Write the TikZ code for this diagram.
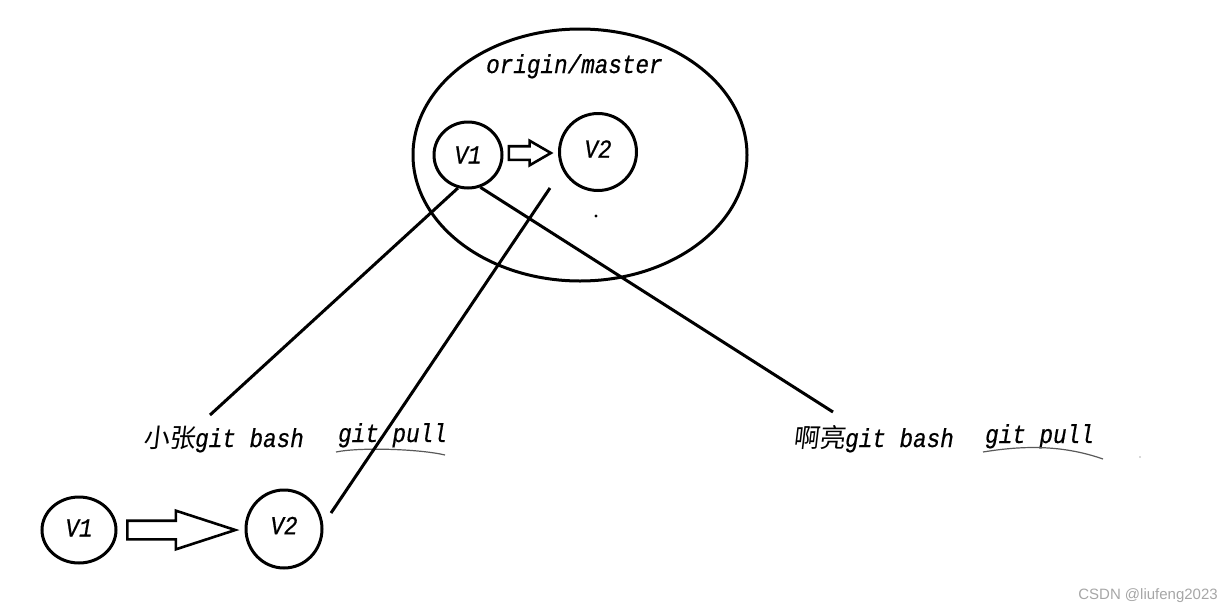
\documentclass[tikz,border=0pt]{standalone}
\usepackage{fontspec}
\setmainfont{Liberation Serif}
\newfontfamily\monoit[FakeStretch=0.87, FakeBold=0.6]{Liberation Mono}
\newfontfamily\cjk[FakeSlant=0.12]{Noto Sans CJK SC}
\usetikzlibrary{positioning, shapes.geometric, shapes.arrows}

\begin{document}
\begin{tikzpicture}[
  x=1pt, y=-1pt,
  ver/.style={ellipse, draw, line width=3pt, inner sep=0pt,
              font=\monoit\itshape\fontsize{26}{28}\selectfont},
  repo/.style={ellipse, draw, line width=3pt, inner sep=0pt},
  hollow/.style={single arrow, draw, line width=2.6pt, single arrow head indent=0pt,
                 inner xsep=0pt, shape border rotate=0},
  lbl/.style={anchor=base west, inner sep=0pt, font=\monoit\itshape\fontsize{26}{28}\selectfont},
  link/.style={line width=3pt},
  wave/.style={gray!70!black, line width=1.2pt},
]
  \useasboundingbox (0,0) rectangle (1232,611);

  % Remote repository
  \node[repo, minimum width=334pt, minimum height=252pt] (remote) at (580,155) {};
  \node[lbl] (rname) at (486,73) {origin/master};
  \node[ver, minimum width=68pt, minimum height=66pt] (rv1) at (468,155) {V1};
  \node[ver, minimum width=77pt, minimum height=77pt] (rv2) at (598,152) {\raisebox{6pt}{V2}};
  \node[hollow, minimum height=42pt, inner ysep=5.5pt, single arrow head extend=5.5pt,
        single arrow tip angle=60] (rarr) at (524,153) {};
  \fill (596,216) circle (1.6pt);

  % Local repository of the first user
  \node[ver, minimum width=74pt, minimum height=66pt] (lv1) at (79,530) {\raisebox{4pt}{V1}};
  \node[ver, minimum width=76pt, minimum height=78pt] (lv2) at (284,529) {\raisebox{7pt}{V2}};
  \node[hollow, minimum height=108pt, inner ysep=8pt, single arrow head extend=10pt,
        single arrow tip angle=36] (larr) at (167,530) {};

  % Labels
  \node[lbl] (zhang) at (143,447) {{\cjk 小张}git bash};
  \node[lbl] (zpull) at (338,442) {git pull};
  \node[lbl] (liang) at (793,447) {{\cjk 啊亮}git bash};
  \node[lbl] (lpull) at (985,443) {git pull};
  \draw[wave] (336,452) .. controls (360,447) and (420,449) .. (445,455);
  \draw[wave] (983,452) .. controls (1020,446) and (1060,444) .. (1103,459);
  \fill[gray!60] (1140,457) circle (0.8pt);

  % Links
  \coordinate (zend) at (210,415);
  \coordinate (lend) at (833,412);
  \coordinate (ptop) at (550,188);
  \coordinate (pbot) at (331,513);
  \draw[link] (rv1.-107) -- (zend);
  \draw[link] (rv1.-69) -- (lend);
  \draw[link] (pbot) -- (ptop);

  % Watermark
  \node[anchor=base east, inner sep=0pt, text=gray!70,
        font=\fontspec{Liberation Sans}\fontsize{15}{17}\selectfont] (mark) at (1218,599) {CSDN @liufeng2023};
\end{tikzpicture}
\end{document}
